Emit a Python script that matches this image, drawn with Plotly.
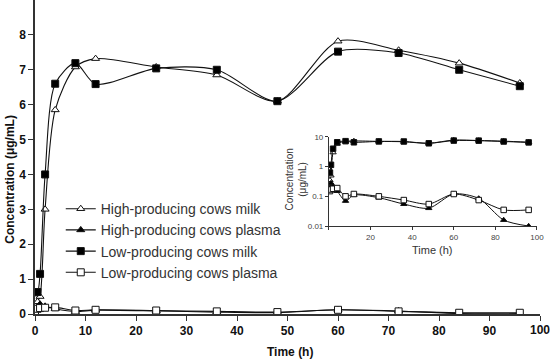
import plotly.graph_objects as go

times = [0, 0.5, 1, 2, 4, 8, 12, 24, 36, 48, 60, 72, 84, 96]
high_milk = [0.02, 0.35, 0.5, 3.0, 5.85, 7.08, 7.32, 7.08, 6.85, 6.1, 7.82, 7.56, 7.19, 6.62]
high_plasma = [0.01, 0.2, 0.28, 0.22, 0.15, 0.07, 0.11, 0.09, 0.055, 0.04, 0.12, 0.085, 0.016, 0.01]
low_milk = [0.62, 0.63, 1.15, 4.0, 6.6, 7.19, 6.59, 7.04, 7.0, 6.1, 7.52, 7.48, 7.0, 6.53]
low_plasma = [0.05, 0.15, 0.17, 0.18, 0.19, 0.1, 0.12, 0.1, 0.075, 0.055, 0.12, 0.075, 0.035, 0.035]

x_ticks = list(range(0, 101, 10))
y_ticks = list(range(0, 9))
inset_x_ticks = [0, 20, 40, 60, 80, 100]
inset_y_ticks = [0.01, 0.1, 1, 10]

names = ["High-producing cows milk", "High-producing cows plasma",
         "Low-producing cows milk", "Low-producing cows plasma"]
series = [high_milk, high_plasma, low_milk, low_plasma]
symbols = ["triangle-up", "triangle-up", "square", "square"]
fills = ["white", "black", "black", "white"]

FONT = "Arial, Liberation Sans, sans-serif"
fig = go.Figure()

for nm, ys, sym, fc in zip(names, series, symbols, fills):
    fig.add_trace(go.Scatter(
        x=times, y=ys, name=nm, mode="lines+markers",
        line=dict(color="#111", width=1.1, shape="spline", smoothing=0.8),
        marker=dict(symbol=sym, size=7, color=fc, line=dict(color="#111", width=1)),
        xaxis="x", yaxis="y"))

for nm, ys, sym, fc in zip(names, series, symbols, fills):
    fig.add_trace(go.Scatter(
        x=times[1:], y=ys[1:], name=nm, mode="lines+markers", showlegend=False,
        line=dict(color="#111", width=1, shape="spline", smoothing=0.8),
        marker=dict(symbol=sym, size=5.5, color=fc, line=dict(color="#111", width=1)),
        xaxis="x2", yaxis="y2"))

fig.update_layout(
    width=550, height=360,
    margin=dict(l=35, r=10, t=0, b=46),
    paper_bgcolor="white", plot_bgcolor="white",
    font=dict(family=FONT, color="#111"),
    xaxis=dict(domain=[0, 1], range=[0, 100], tickvals=x_ticks,
               ticktext=[str(v) if v < 100 else "" for v in x_ticks], automargin=False,
               showgrid=False, zeroline=False, showline=True, linecolor="#333", linewidth=1.5,
               ticks="outside", ticklen=5, tickcolor="#333",
               tickfont=dict(size=12, weight="bold")),
    yaxis=dict(domain=[0, 1], range=[0, 9], tickvals=y_ticks, automargin=False,
               showgrid=False, zeroline=False, showline=True, linecolor="#333", linewidth=1.5,
               ticks="outside", ticklen=5, tickcolor="#333",
               tickfont=dict(size=12, weight="bold")),
    xaxis2=dict(domain=[0.582, 0.994], anchor="y2", range=[0, 100], automargin=False,
                tickvals=inset_x_ticks, ticktext=["" if v == 0 else str(v) for v in inset_x_ticks],
                showgrid=False, zeroline=False, showline=True, linecolor="#333", linewidth=1,
                ticks="outside", ticklen=3, tickcolor="#333", tickfont=dict(size=8, color="#444")),
    yaxis2=dict(domain=[0.280, 0.564], anchor="x2", type="log", range=[-2, 1], automargin=False,
                tickvals=inset_y_ticks, ticktext=[f"{v:g}" for v in inset_y_ticks],
                showgrid=False, zeroline=False, showline=True, linecolor="#333", linewidth=1,
                ticks="outside", ticklen=3, tickcolor="#333", tickfont=dict(size=8, color="#444")),
    legend=dict(x=0.051, y=0.385, xanchor="left", yanchor="top",
                bgcolor="rgba(0,0,0,0)", font=dict(size=14, color="#333"),
                itemwidth=30, tracegroupgap=0),
    showlegend=True,
    annotations=[
        dict(text="<b>100</b>", xref="x", yref="paper", x=x_ticks[-1], y=0, yshift=-16,
             xanchor="center", yanchor="middle", showarrow=False, font=dict(size=12)),
        dict(text="<b>Concentration (μg/mL)</b>", xref="paper", yref="paper",
             x=-0.05, y=0.43, xanchor="center", yanchor="middle",
             textangle=-90, showarrow=False, font=dict(size=12)),
        dict(text="<b>Time (h)</b>", xref="paper", yref="paper",
             x=0.505, y=-0.121, xanchor="center", yanchor="middle",
             showarrow=False, font=dict(size=12)),
        dict(text="Concentration<br>(μg/mL)", xref="paper", yref="paper",
             x=0.516, y=0.427, xanchor="center", yanchor="middle",
             textangle=-90, showarrow=False, font=dict(size=10, color="#333")),
        dict(text="Time (h)", xref="paper", yref="paper",
             x=0.788, y=0.204, xanchor="center", yanchor="middle",
             showarrow=False, font=dict(size=11, color="#333")),
    ],
)

fig.write_html("out.html", config={"displayModeBar": False},
               post_script="document.body.style.margin='0';document.body.style.padding='0';")
